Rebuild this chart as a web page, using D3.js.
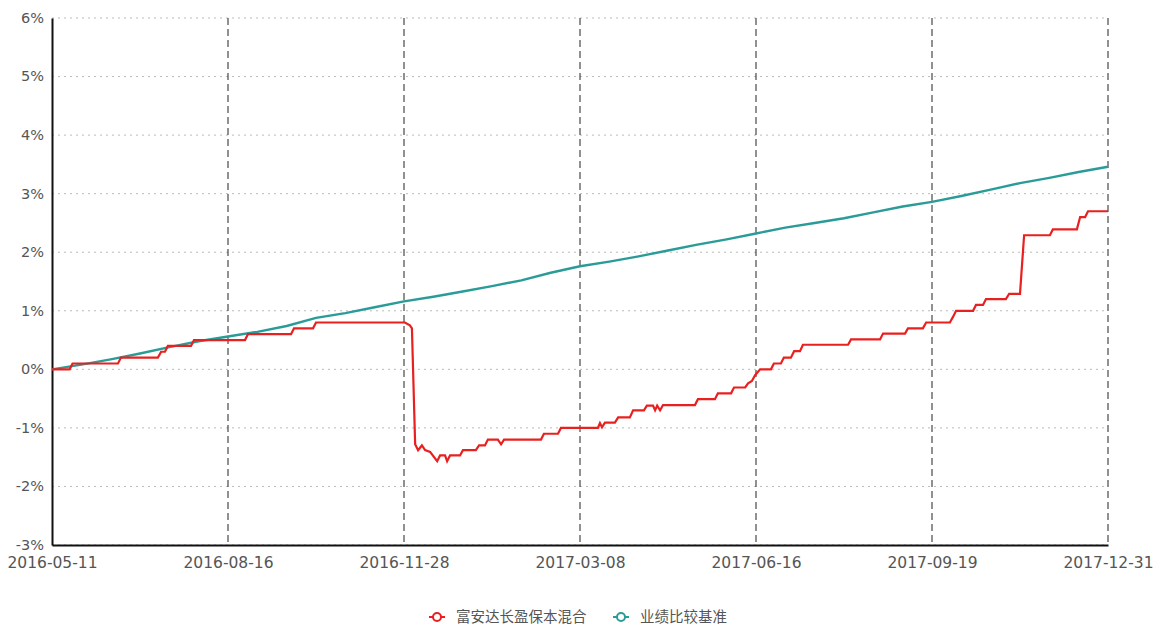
<!DOCTYPE html>
<html><head><meta charset="utf-8">
<script src="https://cdn.jsdelivr.net/npm/d3@7"></script>
<style>
html,body{margin:0;padding:0;background:#fff;}
svg{display:block;}
text{font-family:"DejaVu Sans",Verdana,sans-serif;}
</style></head>
<body><svg id="c" width="1154" height="626"></svg>
<script>
// x-axis tick labels (equally spaced trading-day positions)
const tickLabels = ["2016-05-11","2016-08-16","2016-11-28","2017-03-08","2017-06-16","2017-09-19","2017-12-31"];
const yTicks = [-3,-2,-1,0,1,2,3,4,5,6];
const seriesNames = ["富安达长盈保本混合","业绩比较基准"];
const seriesColors = ["#e8201f","#2a9c98"];
// fund cumulative return (%) vertices: [trading-day index, value]
const fundIdx = [0,6,7,22.5,23.5,36.1,37.2,38.5,39.5,47.4,48.4,65.8,66.8,81.5,82.5,89,90,120.3,122,122.7,123.8,124.8,126.1,127.2,128.9,131.3,132.3,134,134.7,135.7,139.1,140.1,144.5,145.6,147.6,148.6,152,153.1,154.1,166.7,167.7,172.5,173.5,186.1,186.8,187.5,188.5,191.9,193,197,198.1,201.8,202.8,204.9,205.6,206.3,207.3,208.3,219.2,220.2,226,227,231.5,232.5,236.3,237.3,238.6,239.7,241.4,245.1,246.1,248.5,249.5,251.9,253,255,256,271.4,272.4,282.3,283.3,290.8,291.8,296.9,298,306.1,307.2,308.2,314,315,317.4,318.4,325.2,326.3,330,331.4,340.2,341.2,349.4,350.5,352.2,353.2,360];
const fundVal = [0,0,0.1,0.1,0.2,0.2,0.3,0.3,0.4,0.4,0.5,0.5,0.6,0.6,0.7,0.7,0.8,0.8,0.75,0.7,-1.28,-1.38,-1.3,-1.38,-1.41,-1.57,-1.47,-1.47,-1.57,-1.47,-1.47,-1.38,-1.38,-1.3,-1.3,-1.2,-1.2,-1.28,-1.2,-1.2,-1.1,-1.1,-1.0,-1.0,-0.92,-0.99,-0.91,-0.91,-0.82,-0.82,-0.7,-0.7,-0.62,-0.62,-0.7,-0.62,-0.7,-0.61,-0.61,-0.51,-0.51,-0.41,-0.41,-0.31,-0.31,-0.24,-0.2,-0.1,0,0,0.1,0.1,0.2,0.2,0.31,0.31,0.42,0.42,0.51,0.51,0.61,0.61,0.7,0.7,0.8,0.8,0.9,1.0,1.0,1.1,1.1,1.2,1.2,1.29,1.29,2.29,2.29,2.39,2.39,2.6,2.6,2.7,2.7];
// benchmark cumulative return (%) sampled every 10 trading-day index units
const benchIdx = [0,10,20,30,40,50,60,70,80,90,100,110,120,130,140,150,160,170,180,190,200,210,220,230,240,250,260,270,280,290,300,310,320,330,340,350,360];
const benchVal = [0,0.08,0.17,0.27,0.38,0.48,0.56,0.64,0.74,0.88,0.96,1.06,1.16,1.24,1.33,1.42,1.52,1.65,1.76,1.84,1.93,2.03,2.13,2.22,2.32,2.42,2.5,2.58,2.68,2.78,2.86,2.96,3.07,3.18,3.27,3.37,3.46];

const svg = d3.select("#c");
const L=52, R=1108, T=18, B=545;
const x = d3.scaleLinear().domain([0,360]).range([L,R]);
const y = d3.scaleLinear().domain([-3,6]).range([B,T]);
const tickPos = tickLabels.map((d,i)=>i*60);

// horizontal dotted grid
svg.append("g").selectAll("line").data(yTicks).join("line")
  .attr("x1",L).attr("x2",R).attr("y1",d=>y(d)).attr("y2",d=>y(d))
  .attr("stroke","#bbb").attr("stroke-width",1).attr("stroke-dasharray","2,4");
// vertical dashed grid
svg.append("g").selectAll("line").data(tickPos.slice(1)).join("line")
  .attr("x1",d=>x(d)).attr("x2",d=>x(d)).attr("y1",T).attr("y2",B)
  .attr("stroke","#222").attr("stroke-width",1).attr("stroke-dasharray","7,4");

// y axis
const yAxis = d3.axisLeft(y).tickValues(yTicks).tickFormat(d=>d+"%").tickSize(0).tickPadding(8);
const gy = svg.append("g").attr("transform",`translate(${L},0)`).call(yAxis);
gy.select(".domain").attr("stroke","#111").attr("stroke-width",2);
gy.selectAll("text").attr("fill","#555").style("font-size","14.5px").attr("dy","0.3em");
// x axis
const xAxis = d3.axisBottom(x).tickValues(tickPos).tickFormat((d,i)=>tickLabels[i]).tickSize(0).tickPadding(12);
const gx = svg.append("g").attr("transform",`translate(0,${B})`).call(xAxis);
gx.select(".domain").attr("stroke","#111").attr("stroke-width",2);
gx.selectAll("text").attr("fill","#555").style("font-size","15.5px");

const line = d3.line().x(d=>x(d[0])).y(d=>y(d[1]));
svg.append("path").datum(benchIdx.map((d,i)=>[d,benchVal[i]]))
  .attr("d",line).attr("fill","none").attr("stroke",seriesColors[1]).attr("stroke-width",2.4);
svg.append("path").datum(fundIdx.map((d,i)=>[d,fundVal[i]]))
  .attr("d",line).attr("fill","none").attr("stroke",seriesColors[0]).attr("stroke-width",2.2);

// legend
const lg = svg.append("g");
const lx = [437, 621];
seriesNames.forEach((n,i)=>{
  const g = lg.append("g").attr("transform",`translate(${lx[i]},617)`);
  g.append("line").attr("x1",-8).attr("x2",8).attr("stroke",seriesColors[i]).attr("stroke-width",2);
  g.append("circle").attr("r",4).attr("fill","#fff").attr("stroke",seriesColors[i]).attr("stroke-width",2);
  g.append("text").attr("x",19).attr("dy","0.35em").attr("fill","#555").style("font-size","14.5px")
    .style("font-family","'Noto Sans CJK SC',sans-serif").text(n);
});
</script></body></html>
